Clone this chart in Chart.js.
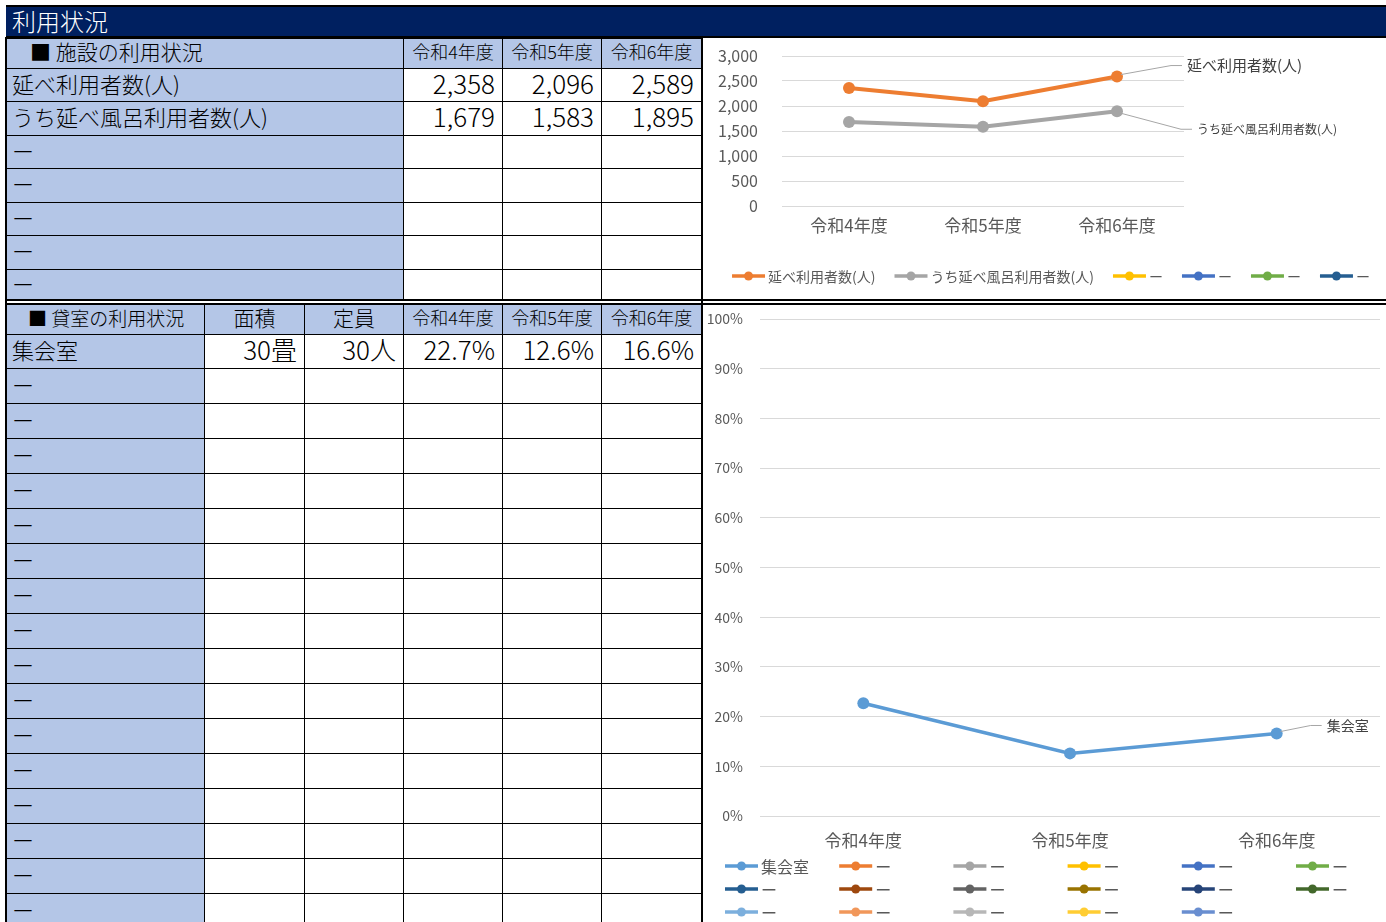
<!DOCTYPE html>
<html>
<head>
<meta charset="utf-8">
<script src="https://cdn.jsdelivr.net/npm/chart.js@4.4.0/dist/chart.umd.min.js"></script>
<style>
  body { margin: 0; width: 1386px; height: 922px; background: #fff; overflow: hidden; position: relative;
         font-family: "Noto Sans CJK JP", "Noto Sans", sans-serif; }
  .cell { position: absolute; box-sizing: border-box; border: 1px solid #000; display: flex; align-items: center;
          white-space: nowrap; overflow: hidden; color: #000; line-height: 1; font-weight: 300; padding-bottom: 5px; }
  .lab { background: #b4c6e7; }
  .title { position: absolute; left: 6px; top: 5px; width: 1380px; height: 33px; background: #002060;
           border-top: 2px solid #000; border-bottom: 2px solid #000; box-sizing: border-box;
           color: #fff; font-size: 24px; line-height: 28px; padding-left: 6px; font-weight: 300; }
  .hline { position: absolute; left: 6px; width: 1380px; height: 2px; background: #000; }
  .vline { position: absolute; width: 2px; background: #000; }
  canvas { position: absolute; }
</style>
</head>
<body>
<div class="title">利用状況</div>
<div id="tables"></div>
<div class="hline" style="top:299px"></div>
<div class="hline" style="top:303px"></div>
<div class="vline" style="left:5px; top:37px; height:885px"></div>
<div class="vline" style="left:701px; top:37px; height:885px"></div>
<div style="position:absolute; left:703px; top:38px; width:683px; height:261px;"><canvas id="usage"></canvas></div>
<div style="position:absolute; left:703px; top:305px; width:683px; height:617px;"><canvas id="rooms"></canvas></div>
<script>
// data
const years = ['令和4年度', '令和5年度', '令和6年度'];
const facilityRows = ['延べ利用者数(人)', 'うち延べ風呂利用者数(人)', 'ー', 'ー', 'ー', 'ー', 'ー'];
const totalUsers = [2358, 2096, 2589];
const bathUsers = [1679, 1583, 1895];
const usageSeries = ['延べ利用者数(人)', 'うち延べ風呂利用者数(人)', 'ー', 'ー', 'ー', 'ー'];
const usageColors = ['#ED7D31', '#A5A5A5', '#FFC000', '#4472C4', '#70AD47', '#255E91'];

const roomRows = ['集会室', 'ー', 'ー', 'ー', 'ー', 'ー', 'ー', 'ー', 'ー', 'ー', 'ー', 'ー', 'ー', 'ー', 'ー', 'ー', 'ー'];
const roomArea = ['30畳'];
const roomCapacity = ['30人'];
const roomRate = [22.7, 12.6, 16.6];
const roomColors = ['#5B9BD5', '#ED7D31', '#A5A5A5', '#FFC000', '#4472C4', '#70AD47',
                    '#255E91', '#9E480E', '#636363', '#997300', '#264478', '#43682B',
                    '#7CAFDD', '#F1975A', '#B7B7B7', '#FFCD33', '#698ED0'];
const usageTicks = [0, 3000, 500];
const rateTicks = [0, 100, 10];

// tables
const host = document.getElementById('tables');
function cell(x1, x2, y1, y2, text, cls, style) {
  const d = document.createElement('div');
  d.className = 'cell ' + (cls || '');
  d.style.left = x1 + 'px';
  d.style.top = y1 + 'px';
  d.style.width = (x2 - x1 + 1) + 'px';
  d.style.height = (y2 - y1 + 1) + 'px';
  d.style.cssText += style || '';
  d.textContent = text;
  host.appendChild(d);
}
const fmt = n => n.toLocaleString('en-US');
const numStyle = 'justify-content:flex-end; padding-right:7px; font-size:26px;';
const yearStyle = 'justify-content:center; font-size:18px;';
const labStyle = 'padding-left:5px; font-size:22px;';

const t1Cols = [6, 403, 502, 601, 701];
const t1Rows = [38, 68, 101, 135, 168, 202, 235, 269, 300];
cell(t1Cols[0], t1Cols[1], t1Rows[0], t1Rows[1], '\u3000■ 施設の利用状況', 'lab', 'padding-left:2px; font-size:21px;');
years.forEach((y, i) => cell(t1Cols[i + 1], t1Cols[i + 2], t1Rows[0], t1Rows[1], y, 'lab', yearStyle));
const facilityVals = [totalUsers, bathUsers];
facilityRows.forEach((r, j) => {
  cell(t1Cols[0], t1Cols[1], t1Rows[j + 1], t1Rows[j + 2], r, 'lab', labStyle);
  years.forEach((y, i) => {
    const v = facilityVals[j] ? fmt(facilityVals[j][i]) : '';
    cell(t1Cols[i + 1], t1Cols[i + 2], t1Rows[j + 1], t1Rows[j + 2], v, '', numStyle);
  });
});

const t2Cols = [6, 204, 304, 403, 502, 601, 701];
const t2Rows = [304, 334];
for (let k = 0; k < roomRows.length; k++) t2Rows.push(334 + 35 * (k + 1) - 1);
cell(t2Cols[0], t2Cols[1], t2Rows[0], t2Rows[1], '\u3000■ 貸室の利用状況', 'lab', 'padding-left:2px; font-size:19px;');
cell(t2Cols[1], t2Cols[2], t2Rows[0], t2Rows[1], '面積', 'lab', 'justify-content:center; font-size:21px;');
cell(t2Cols[2], t2Cols[3], t2Rows[0], t2Rows[1], '定員', 'lab', 'justify-content:center; font-size:21px;');
years.forEach((y, i) => cell(t2Cols[i + 3], t2Cols[i + 4], t2Rows[0], t2Rows[1], y, 'lab', yearStyle));
roomRows.forEach((r, j) => {
  const y1 = t2Rows[j + 1], y2 = t2Rows[j + 2];
  cell(t2Cols[0], t2Cols[1], y1, y2, r, 'lab', labStyle);
  cell(t2Cols[1], t2Cols[2], y1, y2, roomArea[j] || '', '', numStyle);
  cell(t2Cols[2], t2Cols[3], y1, y2, roomCapacity[j] || '', '', numStyle);
  years.forEach((y, i) => {
    const v = j === 0 ? roomRate[i].toFixed(1) + '%' : '';
    cell(t2Cols[i + 3], t2Cols[i + 4], y1, y2, v, '', numStyle);
  });
});

// chart plugins
const FONT = '"Noto Sans CJK JP", "Noto Sans", sans-serif';

const legendGrid = {
  id: 'legendGrid',
  afterDraw(chart, args, o) {
    const ctx = chart.ctx;
    ctx.save();
    ctx.font = o.fontSize + 'px ' + FONT;
    ctx.textBaseline = 'middle';
    const sets = chart.data.datasets;
    let xs = [];
    if (o.mode === 'flow') {
      const widths = sets.map(d => o.lineLen + 3 + ctx.measureText(d.label).width);
      const total = widths.reduce((a, b) => a + b, 0) + o.gap * (sets.length - 1);
      let x = o.center - total / 2;
      widths.forEach(w => { xs.push(x); x += w + o.gap; });
    }
    sets.forEach((d, i) => {
      let x, y;
      if (o.mode === 'flow') { x = xs[i]; y = o.y; }
      else { x = o.x0 + (i % o.cols) * o.colW; y = o.y + Math.floor(i / o.cols) * o.rowH; }
      ctx.strokeStyle = d.borderColor;
      ctx.lineWidth = 3.5;
      ctx.beginPath(); ctx.moveTo(x, y); ctx.lineTo(x + o.lineLen, y); ctx.stroke();
      ctx.fillStyle = d.borderColor;
      ctx.beginPath(); ctx.arc(x + o.lineLen / 2, y, 4.5, 0, Math.PI * 2); ctx.fill();
      ctx.fillStyle = '#595959';
      ctx.fillText(d.label, x + o.lineLen + 3, y + 1);
    });
    ctx.restore();
  }
};

const endLabels = {
  id: 'endLabels',
  afterDatasetsDraw(chart, args, o) {
    const ctx = chart.ctx;
    ctx.save();
    ctx.textBaseline = 'middle';
    o.items.forEach(it => {
      const meta = chart.getDatasetMeta(it.index);
      const pt = meta.data[meta.data.length - 1];
      const tx = pt.x + it.dx, ty = pt.y + it.dy;
      ctx.strokeStyle = '#a6a6a6';
      ctx.lineWidth = 1;
      ctx.beginPath();
      ctx.moveTo(pt.x + 4, pt.y + (it.dy < 0 ? -2 : 2));
      ctx.lineTo(tx - 16, ty);
      ctx.lineTo(tx - 5, ty);
      ctx.stroke();
      ctx.font = it.fontSize + 'px ' + FONT;
      ctx.fillStyle = '#404040';
      ctx.fillText(chart.data.datasets[it.index].label, tx, ty);
    });
    ctx.restore();
  }
};

function lineSet(label, data, color, width) {
  return { label, data, borderColor: color, backgroundColor: color, borderWidth: width,
           pointRadius: 6, pointHoverRadius: 6, pointBorderWidth: 0, tension: 0 };
}

// usage chart
const usageData = [totalUsers, bathUsers];
new Chart(document.getElementById('usage'), {
  type: 'line',
  data: {
    labels: years,
    datasets: usageSeries.map((s, i) => lineSet(s, usageData[i] || [null, null, null], usageColors[i], 4))
  },
  options: {
    responsive: true, maintainAspectRatio: false, animation: false,
    layout: { padding: { top: 18, right: 202, left: 0, bottom: 0 } },
    scales: {
      x: {
        offset: true,
        grid: { display: false, drawTicks: false },
        border: { display: false },
        ticks: { padding: 9, color: '#595959', font: { size: 17, family: FONT } },
        afterFit: s => { s.height = 93; }
      },
      y: {
        min: usageTicks[0], max: usageTicks[1],
        ticks: { stepSize: usageTicks[2], padding: 0, color: '#595959', font: { size: 16, family: FONT },
                 callback: v => v.toLocaleString('en-US') },
        grid: { color: '#d9d9d9', drawTicks: true, tickLength: 24, tickColor: 'rgba(0,0,0,0)' },
        border: { display: false },
        afterFit: s => { s.width = 79; }
      }
    },
    plugins: {
      legend: { display: false },
      tooltip: { enabled: false },
      legendGrid: { mode: 'flow', center: 348, y: 238, gap: 19, lineLen: 33, fontSize: 14 },
      endLabels: { items: [
        { index: 0, dx: 70, dy: -11, fontSize: 15 },
        { index: 1, dx: 80, dy: 18, fontSize: 12 }
      ] }
    }
  },
  plugins: [legendGrid, endLabels]
});

// rooms chart
new Chart(document.getElementById('rooms'), {
  type: 'line',
  data: {
    labels: years,
    datasets: roomRows.map((r, i) => lineSet(r, i === 0 ? roomRate : [null, null, null], roomColors[i], 3.5))
  },
  options: {
    responsive: true, maintainAspectRatio: false, animation: false,
    layout: { padding: { top: 14, right: 6, left: 0, bottom: 0 } },
    scales: {
      x: {
        offset: true,
        grid: { display: false, drawTicks: false },
        border: { display: false },
        ticks: { padding: 14, color: '#595959', font: { size: 17, family: FONT } },
        afterFit: s => { s.height = 106; }
      },
      y: {
        min: rateTicks[0], max: rateTicks[1],
        ticks: { stepSize: rateTicks[2], padding: 0, color: '#595959', font: { size: 14, family: FONT },
                 callback: v => v + '%' },
        grid: { color: '#d9d9d9', drawTicks: true, tickLength: 17, tickColor: 'rgba(0,0,0,0)' },
        border: { display: false },
        afterFit: s => { s.width = 57; }
      }
    },
    plugins: {
      legend: { display: false },
      tooltip: { enabled: false },
      legendGrid: { mode: 'grid', x0: 22, y: 561, cols: 6, colW: 114.2, rowH: 23, lineLen: 33, fontSize: 16 },
      endLabels: { items: [ { index: 0, dx: 50, dy: -8, fontSize: 14 } ] }
    }
  },
  plugins: [legendGrid, endLabels]
});
</script>
</body>
</html>
